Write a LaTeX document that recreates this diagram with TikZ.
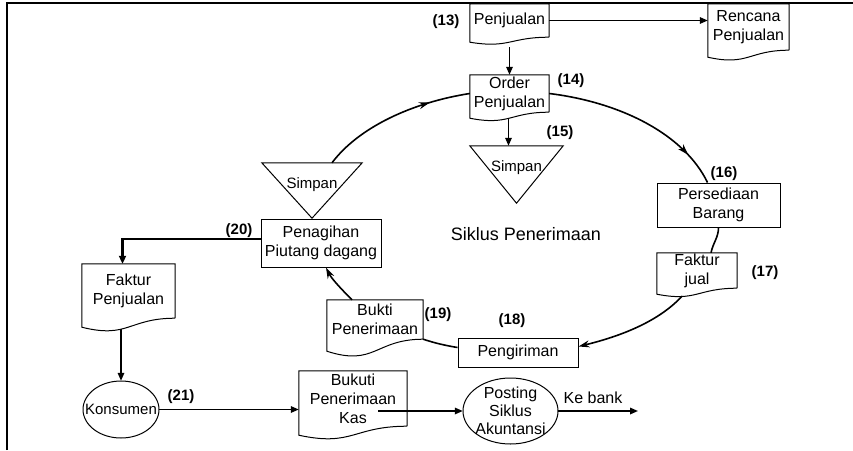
\documentclass[tikz,border=0pt]{standalone}
\usepackage{fontspec}
\setmainfont{Liberation Sans}
\usetikzlibrary{arrows.meta,calc,decorations.markings}
\newcommand\docshape[2]{\draw[boxline] (#1.south east) -- (#1.north east) -- (#1.north west) -- ($(#1.south west)+(0,#2)$) .. controls ($(#1.south)+(0,{2.3*#2})$) and (#1.south) .. (#1.south east);}
\newcommand\trishape[1]{\draw[boxline] (#1.north west) -- (#1.north east) -- (#1.south) -- cycle;}
\begin{document}
\begin{tikzpicture}[x=1pt,y=-1pt,
  boxline/.style={line width=1pt},
  txt/.style={font=\fontsize{16}{19}\selectfont, align=center, inner sep=0pt},
  lbl/.style={font=\fontsize{15}{18}\selectfont\bfseries, inner sep=0pt},
  conn/.style={line width=1.6pt},
  arr/.style={conn, -{Triangle[length=8pt,width=6.5pt]}},
  cyc/.style={line width=1.6pt},
  cyctip/.style={-{Stealth[length=11pt,width=7pt]}},
  midarrow/.style={postaction={decorate}, decoration={markings, mark=at position #1 with {\arrow{Stealth[length=11pt,width=7pt]}}}}
]
\useasboundingbox (0,0) rectangle (853,450);
% frame
\draw[line width=1.5pt] (7,450) -- (7,3) -- (853,3);

% nodes
\node[txt, minimum width=79pt, minimum height=33pt] (pj) at (509.5,20.5) {Penjualan};
\node[txt, minimum width=81pt, minimum height=46pt] (rp) at (748.5,27) {Rencana\\Penjualan};
\node[txt, minimum width=79pt, minimum height=37pt] (op) at (509.5,93.5) {Order\\Penjualan};
\node[txt, font=\fontsize{15}{18}\selectfont, minimum width=93pt, text height=25pt, text depth=32pt] (sm) at (516.5,174.5) {Simpan};
\node[txt, font=\fontsize{15}{18}\selectfont, minimum width=100pt, text height=25pt, text depth=30pt] (sl) at (312,190.5) {Simpan};
\node[txt, draw, boxline, minimum width=120pt, minimum height=48pt] (pt) at (321,243) {Penagihan\\Piutang dagang};
\node[txt, draw, boxline, minimum width=123pt, minimum height=44pt] (pb) at (718.5,205) {Persediaan\\Barang};
\node[txt, minimum width=80pt, minimum height=35pt] (fj) at (697,270.5) {Faktur\\jual};
\node[txt, draw, boxline, minimum width=120pt, minimum height=29pt] (pg) at (518,352.5) {Pengiriman};
\node[txt, minimum width=96pt, minimum height=39pt] (bp) at (375,319.5) {Bukti\\Penerimaan};
\node[txt, minimum width=93pt, minimum height=54pt] (fp) at (128.5,291) {Faktur\\Penjualan};
\node[txt, font=\fontsize{15}{18}\selectfont, minimum width=76pt, minimum height=57pt] (ks) at (121,409.5) {Konsumen};
\node[txt, minimum width=108pt, minimum height=55pt] (bk) at (353,398.5) {Bukuti\\Penerimaan\\Kas};
\node[txt, font=\fontsize{16}{18}\selectfont, minimum width=95pt, minimum height=66pt] (ps) at (510.5,411) {Posting\\Siklus\\Akuntansi};
\node[txt] (kb) at (593,398) {Ke bank};
\coordinate (kbend) at (638,411);
\node[font=\fontsize{18}{22}\selectfont, inner sep=0pt] (sk) at (526,234) {Siklus Penerimaan};

% labels
\node[lbl] (l13) at (446,22) {(13)};
\node[lbl] (l14) at (571,81) {(14)};
\node[lbl] (l15) at (560,133) {(15)};
\node[lbl] (l16) at (724,174) {(16)};
\node[lbl] (l17) at (765,273) {(17)};
\node[lbl] (l18) at (512,321) {(18)};
\node[lbl] (l19) at (438,315) {(19)};
\node[lbl] (l20) at (239,231) {(20)};
\node[lbl] (l21) at (181,397) {(21)};

% shapes
\docshape{pj}{5}
\docshape{rp}{7}
\docshape{op}{6}
\docshape{fj}{6}
\docshape{bp}{12}
\docshape{fp}{9}
\docshape{bk}{9}
\trishape{sm}
\trishape{sl}
\draw[boxline] (ks.center) ellipse [x radius=38, y radius=28.5];
\draw[boxline] (ps.center) ellipse [x radius=47.5, y radius=33];

% connectors
\draw[arr] (pj.east) -- (pj.east -| rp.west);
\draw[arr] ($(pj.south)+(0,10)$) -- (op.north);
\coordinate (opb) at ($(op.south)+(-1,6)$);
\draw[arr] (opb) -- (opb |- sm.north);
\draw[cyc, midarrow=0.82] (op.east) .. controls +(73,9) and +(-23,-47.5) .. ($(pb.north)+(-11,0)$);
\draw[cyc] (pb.south) .. controls +(0,10) and +(2,-10) .. ($(fj.north)+(14,0)$);
\draw[cyc, cyctip] ($(fj.south)+(-15,8)$) .. controls +(-23.7,25.6) and +(42,-10.3) .. ($(pg.east)+(0,-6)$);
\draw[cyc] ($(pg.west)+(0,-5)$) .. controls +(-12,-2) and +(12,4) .. (bp.south east);
\draw[cyc, cyctip] ($(bp.north)+(-23,0)$) .. controls +(-10,-10) and +(5.7,11.5) .. ($(pt.south)+(5,0)$);
\draw[cyc, midarrow=0.74] ($(sl.north)+(20,0)$) .. controls +(26.8,-35.6) and +(-57.6,9) .. (op.west);
\draw[line width=2.6pt, -{Triangle[length=8pt,width=7pt]}] ($(pt.west)+(0,-4)$) -| ($(fp.north)+(-6,0)$);
\draw[arr] ($(ks.north |- fp.south)+(0,11)$) -- (ks.north);
\draw[arr] (ks.east) -- (ks.east -| bk.west);
\coordinate (bkx) at ($(bk.center)+(25,0)$);
\draw[arr] (bkx |- ps.west) -- (ps.west);
\draw[arr] (ps.east) -- (kbend);
\end{tikzpicture}
\end{document}
